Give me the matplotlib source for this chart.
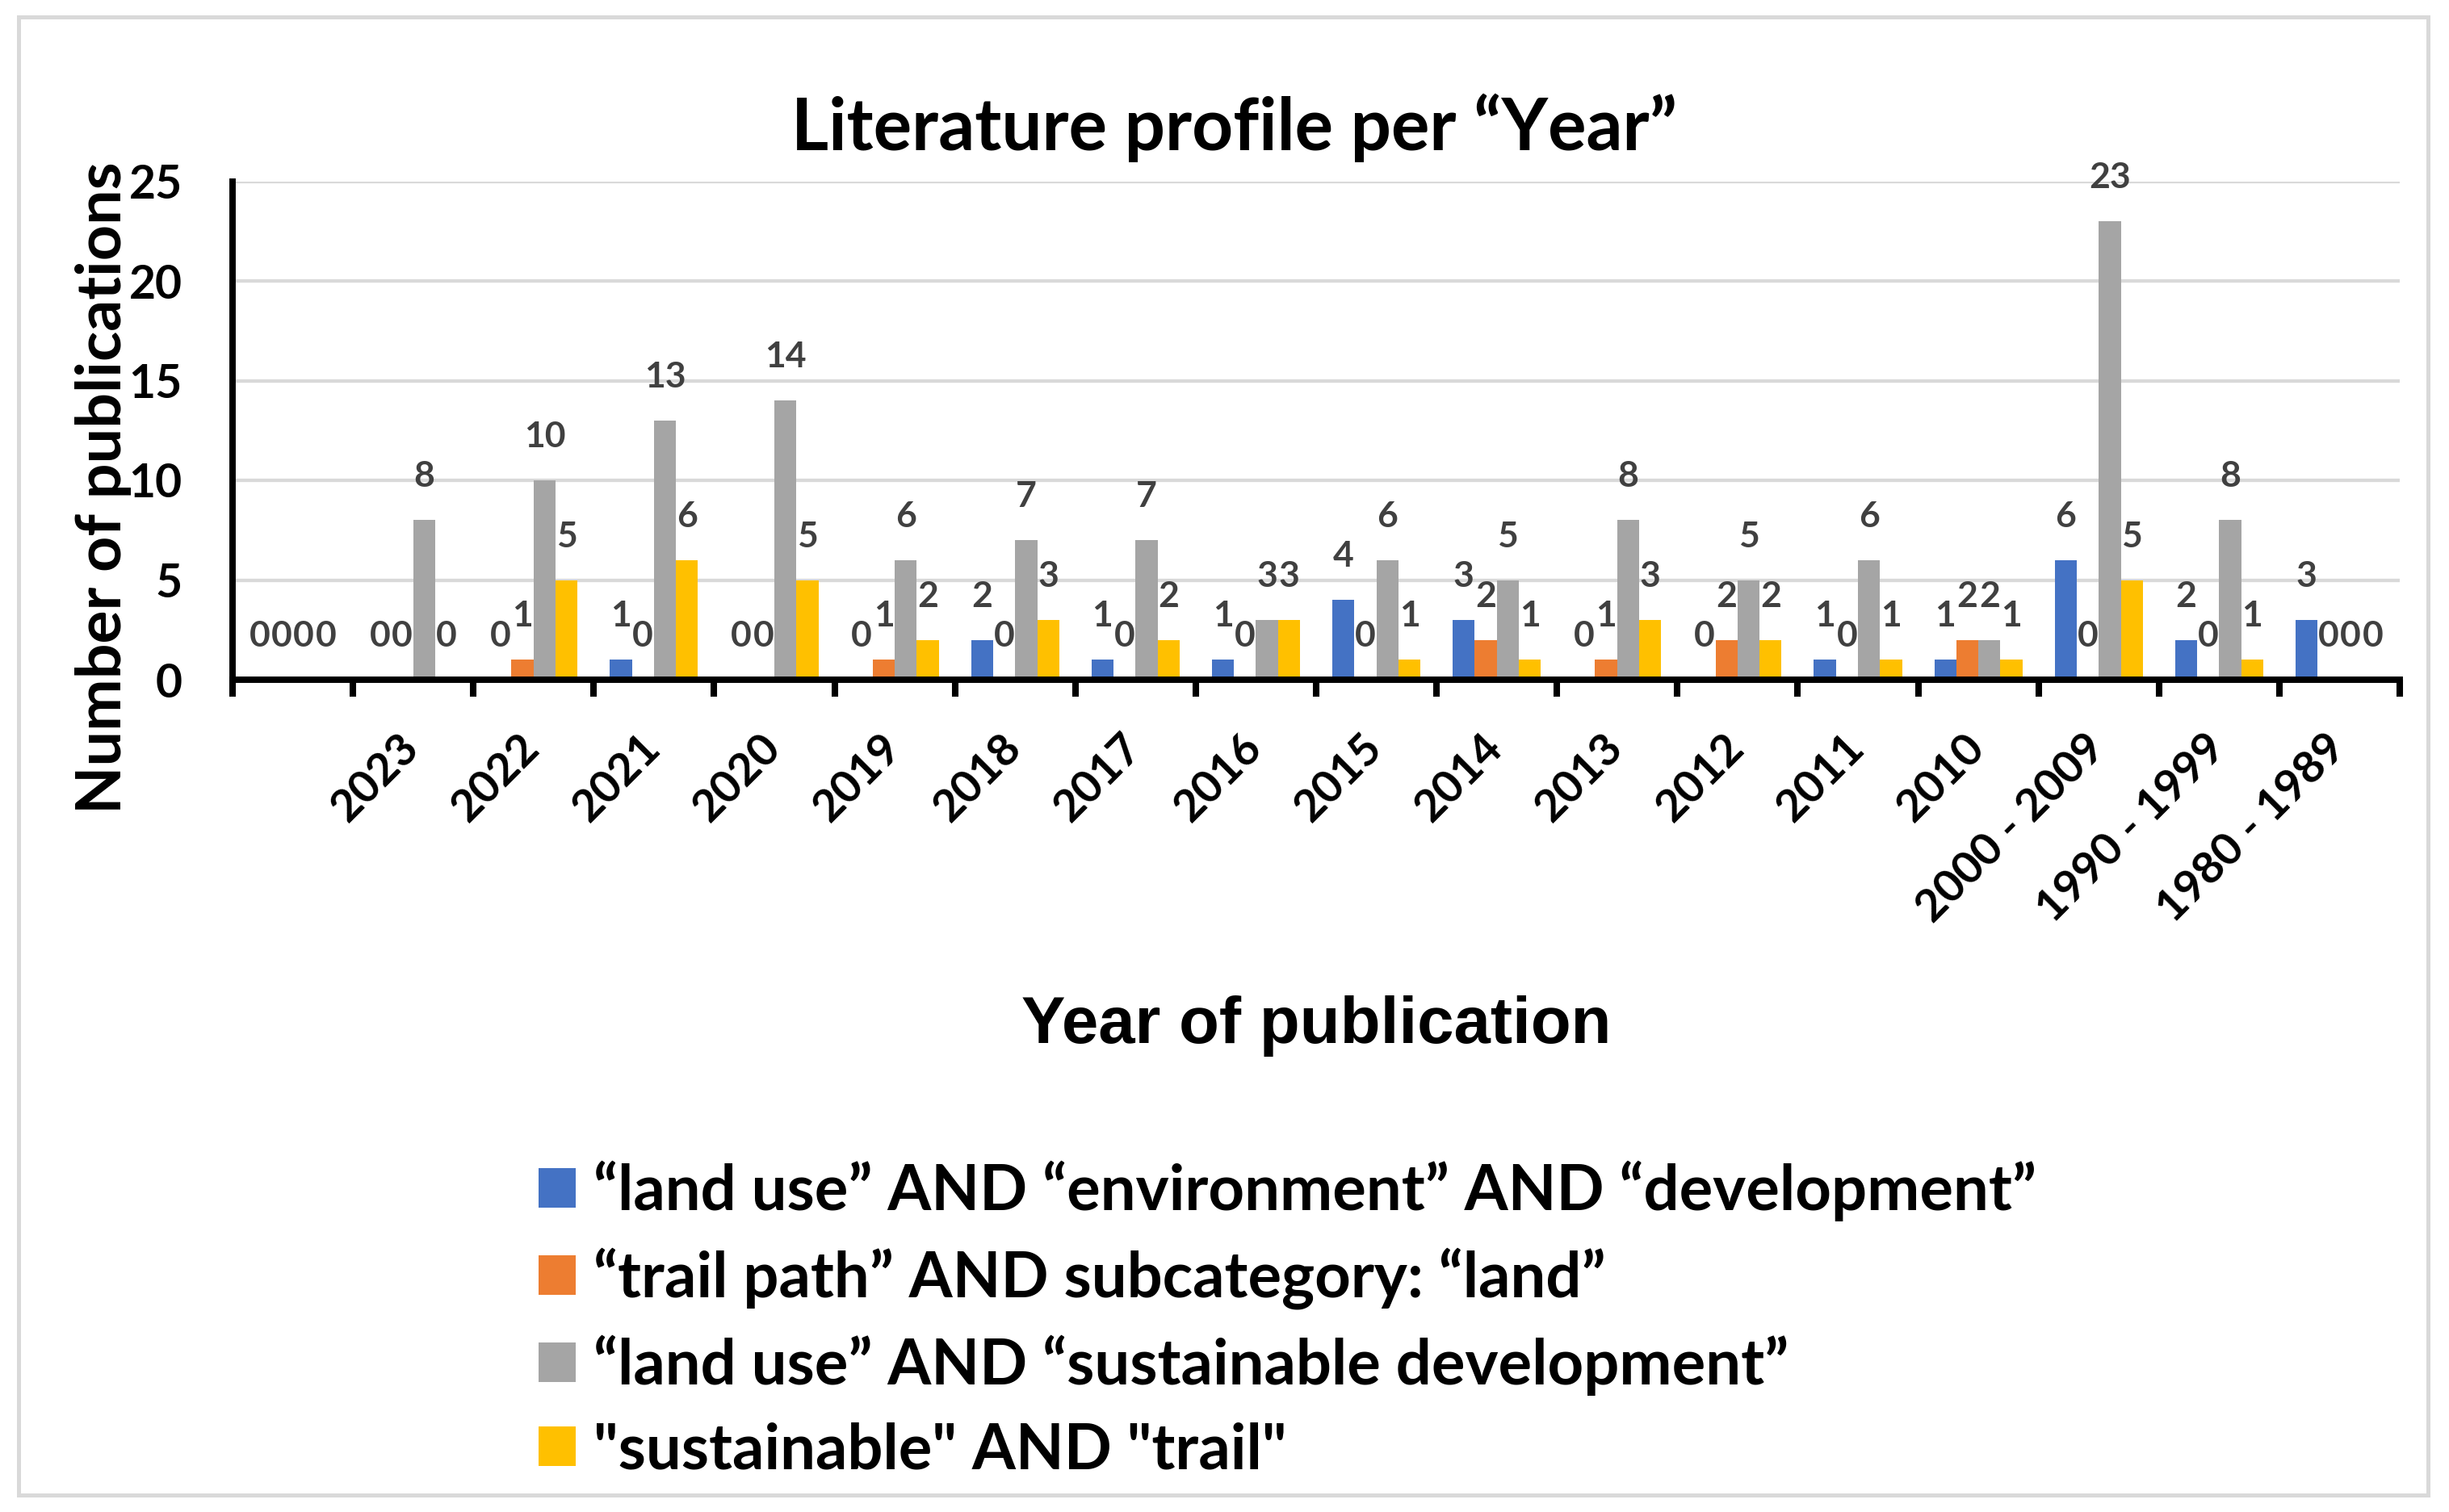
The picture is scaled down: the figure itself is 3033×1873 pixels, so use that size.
import matplotlib
matplotlib.use('Agg')
import matplotlib.pyplot as plt
import numpy as np
from matplotlib.patches import Patch, Rectangle

# 数据
categories = ['', '2023', '2022', '2021', '2020', '2019', '2018', '2017', '2016',
              '2015', '2014', '2013', '2012', '2011', '2010',
              '2000 - 2009', '1990 - 1999', '1980 - 1989']
land_env_dev = [0, 0, 0, 1, 0, 0, 2, 1, 1, 4, 3, 0, 0, 1, 1, 6, 2, 3]
trail_land = [0, 0, 1, 0, 0, 1, 0, 0, 0, 0, 2, 1, 2, 0, 2, 0, 0, 0]
land_sust_dev = [0, 8, 10, 13, 14, 6, 7, 7, 3, 6, 5, 8, 5, 6, 2, 23, 8, 0]
sust_trail = [0, 0, 5, 6, 5, 2, 3, 2, 3, 1, 1, 3, 2, 1, 1, 5, 1, 0]

series_names = ['“land use” AND “environment” AND “development”',
                '“trail path” AND subcategory: “land”',
                '“land use” AND “sustainable development”',
                '"sustainable" AND "trail"']
colors = ['#4472C4', '#ED7D31', '#A5A5A5', '#FFC000']

W, H = 3033, 1873


def plot_chart():
    """
    绘制分组柱状图
    """
    plt.rcParams['font.family'] = ['Lato', 'DejaVu Sans']

    fig = plt.figure(figsize=(W / 100, H / 100), dpi=100)
    ax = fig.add_axes([288 / W, 1 - 842 / H, (2972 - 288) / W, (842 - 224.5) / H])

    x = np.arange(len(categories))
    bar_w = 0.183
    all_series = [land_env_dev, trail_land, land_sust_dev, sust_trail]

    # 柱子和数据标签
    for i, (vals, color) in enumerate(zip(all_series, colors)):
        pos = x + (i - 1.5) * bar_w
        ax.bar(pos, vals, bar_w, color=color, zorder=3)
        for px, v in zip(pos, vals):
            ax.annotate(str(v), (px, v), xytext=(0, 29.5), textcoords='offset points',
                        ha='center', va='baseline', fontsize=32, fontweight='bold',
                        color='#404040', annotation_clip=False)

    ax.set_xlim(-0.5, len(categories) - 0.5)
    ax.set_ylim(0, 25)

    # y轴
    ax.set_yticks(range(0, 26, 5))
    ax.yaxis.grid(True, color='#D9D9D9', linewidth=3.1)
    ax.set_axisbelow(True)
    ax.tick_params(axis='y', length=0, pad=45, labelsize=41)
    for t in ax.get_yticklabels():
        t.set_fontweight('bold')

    # x轴：刻度线在组边界，标签在组中心
    ax.set_xticks(np.arange(-0.5, len(categories), 1))
    ax.set_xticklabels([])
    ax.set_xticks(x + 0.07, minor=True)
    ax.set_xticklabels(categories, minor=True, rotation=45, ha='right', va='baseline',
                       rotation_mode='anchor', fontsize=40, fontweight='bold')
    ax.tick_params(axis='x', which='major', length=15, width=5.8, direction='out', color='black')
    ax.tick_params(axis='x', which='minor', length=0, pad=62.9)

    for side in ['top', 'right']:
        ax.spines[side].set_visible(False)
    for side in ['left', 'bottom']:
        ax.spines[side].set_linewidth(5.7)
        ax.spines[side].set_color('black')
        ax.spines[side].set_zorder(4)

    # 标题和轴标题
    fig.text(1529 / W, 1 - 186 / H, 'Literature profile per “Year”', ha='center', va='baseline',
             fontsize=64, fontweight='bold')
    fig.text(128 / W, 1 - 604 / H, 'Number of publications', rotation=90, ha='center',
             va='center', fontsize=55.5, fontweight='bold')
    fig.text(1630 / W, 1 - 1292 / H, 'Year of publication', ha='center', va='baseline',
             fontsize=58.8, fontweight='bold', family='Liberation Sans')

    # 图例
    handles = [Patch(facecolor=c) for c in colors]
    fig.legend(handles, series_names, loc='upper left', bbox_to_anchor=(667 / W, 1 - 1438 / H),
               frameon=False, prop={'weight': 'bold', 'size': 56},
               handlelength=0.59, handleheight=0.59, handletextpad=0.28,
               labelspacing=0.41, borderpad=0, borderaxespad=0)

    # 外边框
    fig.add_artist(Rectangle((22.5 / W, 1 - 1851.5 / H), (3006.5 - 22.5) / W, (1851.5 - 20.5) / H,
                             transform=fig.transFigure, fill=False, edgecolor='#D9D9D9',
                             linewidth=3.6))

    fig.savefig('out.png', dpi=100)


def main():
    plot_chart()


if __name__ == "__main__":
    main()
